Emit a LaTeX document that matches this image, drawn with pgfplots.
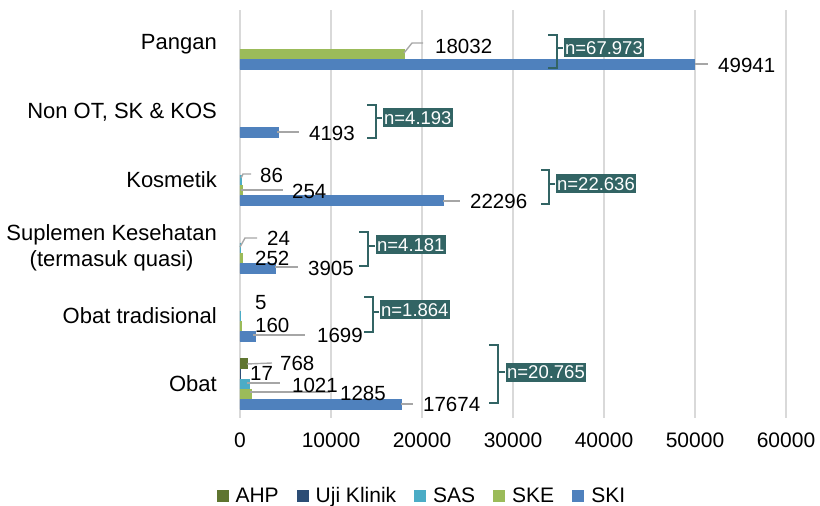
\documentclass[border=0pt]{standalone}
\usepackage{fontspec}
\setmainfont{Liberation Sans}
\usepackage{pgfplots}
\pgfplotsset{compat=1.18}
\definecolor{cAHP}{HTML}{5F7530}
\definecolor{cUji}{HTML}{2C4D75}
\definecolor{cSAS}{HTML}{4BACC6}
\definecolor{cSKE}{HTML}{9BBB59}
\definecolor{cSKI}{HTML}{4F81BD}
\definecolor{teal}{HTML}{326464}
\definecolor{lead}{HTML}{A6A6A6}
\definecolor{gridc}{HTML}{D9D9D9}
\begin{document}
\begin{tikzpicture}
\begin{axis}[
  at={(240pt,88pt)}, anchor=south west,
  scale only axis, width=546pt, height=408pt,
  xmin=0, xmax=60000, ymin=-0.5, ymax=5.5,
  xbar, bar width=0.145,
  axis line style={draw=none},
  major tick length=0pt,
  xmajorgrids, grid style={gridc, line width=1.4pt},
  xtick={0,10000,20000,30000,40000,50000,60000},
  /pgf/number format/assume math mode=true,
  /pgf/number format/1000 sep={},
  scaled x ticks=false,
  xticklabel style={font=\fontsize{21}{24}\selectfont, anchor=center, yshift=-22pt, inner sep=0pt},
  ytick={0,1,2,3,4,5},
  yticklabels={Obat, Obat tradisional, {Suplemen Kesehatan\\(termasuk quasi)}, Kosmetik, {Non OT, SK \& KOS}, Pangan},
  yticklabel style={font=\fontsize{22}{26}\selectfont, align=center, anchor=east, inner sep=0pt, xshift=-23pt},
  legend columns=5,
  legend style={at={(0.333,-0.191)}, anchor=center, draw=none, fill=none,
    font=\fontsize{21}{24}\selectfont,
    /tikz/every odd column/.append style={column sep=5pt},
    /tikz/every even column/.append style={column sep=16pt}},
  legend image code/.code={\fill[#1, draw=none] (0pt,-6pt) rectangle (12pt,6pt);},
]
\addplot[fill=cAHP, draw=cAHP, line width=0.4pt, bar shift=0.30] coordinates {(768,0)};
\addplot[fill=cUji, draw=cUji, line width=0.4pt, bar shift=0.15] coordinates {(17,0)};
\addplot[fill=cSAS, draw=cSAS, line width=0.4pt, bar shift=0] coordinates {(1021,0) (5,1) (24,2) (86,3)};
\addplot[fill=cSKE, draw=cSKE, line width=0.4pt, bar shift=-0.15] coordinates {(1285,0) (160,1) (252,2) (254,3) (18032,5)};
\addplot[fill=cSKI, draw=cSKI, line width=0.4pt, bar shift=-0.30] coordinates {(17674,0) (1699,1) (3905,2) (22296,3) (4193,4) (49941,5)};
\legend{AHP, Uji Klinik, SAS, SKE, SKI}
\end{axis}
\begin{scope}[x=1pt, y=-1pt, yshift=506pt]
  % leader lines
  \begin{scope}[draw=lead, line width=1.4pt]
    \draw (404,53) -- (412,43) -- (423,43);
    \draw (695,64) -- (708,64);
    \draw (277,132) -- (299,132);
    \draw (241,178) -- (243,174) -- (251,174);
    \draw (241,190) -- (283,190);
    \draw (443,201) -- (460,201);
    \draw (240,247) -- (245,238) -- (257,238);
    \draw (275,267) -- (298,267);
    \draw (253,335) -- (305,335);
    \draw (247,364) -- (272,363);
    \draw (247,383) -- (280,383);
    \draw (250,392) -- (330,392);
    \draw (401,404) -- (413,404);
  \end{scope}
  % value labels
  \begin{scope}[every node/.style={anchor=west, inner sep=0pt, font=\fontsize{20.5}{24}\selectfont}]
    \node at (435,46) {18032};
    \node at (718,65) {49941};
    \node at (309,133) {4193};
    \node at (260,175) {86};
    \node at (292,191) {254};
    \node at (470,201) {22296};
    \node at (267,238) {24};
    \node at (255,258) {252};
    \node at (308,268) {3905};
    \node at (255,303) {5};
    \node at (255,325) {160};
    \node at (317,335) {1699};
    \node at (280,363) {768};
    \node at (250,373) {17};
    \node at (292,385) {1021};
    \node at (340,393) {1285};
    \node at (423,404) {17674};
  \end{scope}
  % brackets
  \begin{scope}[draw=teal, line width=1.3pt,
     box/.style={anchor=west, fill=teal, text=white, inner xsep=1.5pt, inner ysep=0pt,
       minimum height=19pt, font=\fontsize{18.5}{20}\selectfont}]
    \draw (548,35) -- (557,35) -- (557,68) -- (548,68); \draw (557,48) -- (563,48);
    \node[box] at (563,48) {n=67.973};
    \draw (367,105) -- (376,105) -- (376,138) -- (367,138); \draw (376,118) -- (382,118);
    \node[box] at (382,118) {n=4.193};
    \draw (541,170) -- (549,170) -- (549,204) -- (541,204); \draw (549,184) -- (555,184);
    \node[box] at (555,184) {n=22.636};
    \draw (359,232) -- (368,232) -- (368,266) -- (359,266); \draw (368,246) -- (375,246);
    \node[box] at (375,245) {n=4.181};
    \draw (364,297) -- (373,297) -- (373,332) -- (364,332); \draw (373,312) -- (379,312);
    \node[box] at (379,310) {n=1.864};
    \draw (489,345) -- (498,345) -- (498,403) -- (489,403); \draw (498,372) -- (505,372);
    \node[box] at (505,372.5) {n=20.765};
  \end{scope}
\end{scope}
\pgfresetboundingbox
\path (0,0) rectangle (820pt,506pt);
\end{tikzpicture}
\end{document}
